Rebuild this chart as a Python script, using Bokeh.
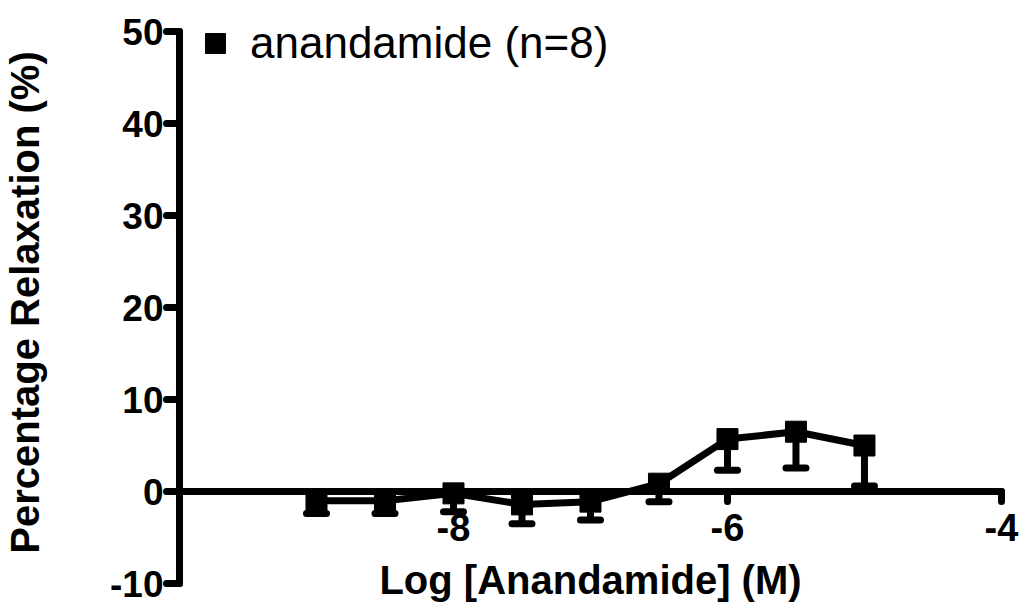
from bokeh.plotting import figure
from bokeh.models import (ColumnDataSource, Whisker, TeeHead, Legend, LegendItem,
                          FixedTicker, Range1d, CustomJSTickFormatter)
from bokeh.embed import file_html
from bokeh.resources import INLINE

# data
log_conc = [-9.0, -8.5, -8.0, -7.5, -7.0, -6.5, -6.0, -5.5, -5.0]
relaxation = [-1.0, -1.0, -0.2, -1.4, -1.1, 0.85, 5.7, 6.5, 5.0]
lower_err = [-2.4, -2.4, -2.2, -3.5, -3.1, -1.1, 2.3, 2.55, 0.6]
x_ticks = [-8, -6, -4]
y_ticks = [-10, 0, 10, 20, 30, 40, 50]
x_bounds = (-10, -4)
y_bounds = (-10, 50)
series_label = "anandamide (n=8)"
x_title = "Log [Anandamide] (M)"
y_title = "Percentage Relaxation (%)"

src = ColumnDataSource(dict(x=log_conc, y=relaxation, lo=lower_err))

# frame is a little larger than the axis bounds so texts around the crossing axis are not clipped
p = figure(width=1020, height=604, x_range=Range1d(-10, -3.861), y_range=Range1d(-12.28, 53.37),
           output_backend="svg", toolbar_location=None,
           min_border_left=179, min_border_right=0, min_border_top=0, min_border_bottom=0)
p.outline_line_color = None
p.grid.visible = False
p.background_fill_color = "white"
p.border_fill_color = "white"

FONT = "Liberation Sans"
fmt = CustomJSTickFormatter(code="return tick.toFixed(0)")

# x axis crossing at y = 0
xa = p.xaxis[0]
xa.fixed_location = 0
xa.bounds = x_bounds
xa.ticker = FixedTicker(ticks=x_ticks)
xa.formatter = fmt
xa.axis_label = x_title
xa.axis_line_width = 7
xa.axis_line_cap = "round"
xa.major_tick_line_width = 7
xa.major_tick_line_cap = "round"
xa.major_tick_in = 0
xa.major_tick_out = 10
xa.minor_tick_line_color = None
xa.major_label_standoff = 12
xa.axis_label_standoff = 14
xa.major_label_text_font = FONT
xa.major_label_text_font_style = "bold"
xa.major_label_text_font_size = "38px"
xa.major_label_text_color = "black"
xa.axis_label_text_font = FONT
xa.axis_label_text_font_style = "bold"
xa.axis_label_text_font_size = "40px"
xa.axis_label_text_color = "black"

ya = p.yaxis[0]
ya.bounds = y_bounds
ya.ticker = FixedTicker(ticks=y_ticks)
ya.formatter = fmt
ya.axis_label = y_title
ya.axis_line_width = 7
ya.axis_line_cap = "round"
ya.major_tick_line_width = 7
ya.major_tick_line_cap = "round"
ya.major_tick_in = 0
ya.major_tick_out = 13
ya.minor_tick_line_color = None
ya.major_label_standoff = 3
ya.axis_label_standoff = 60
ya.major_label_text_font = FONT
ya.major_label_text_font_style = "bold"
ya.major_label_text_font_size = "37px"
ya.major_label_text_color = "black"
ya.axis_label_text_font = FONT
ya.axis_label_text_font_style = "bold"
ya.axis_label_text_font_size = "40px"
ya.axis_label_text_color = "black"

p.line("x", "y", source=src, line_width=7, line_color="black")
wh = Whisker(source=src, base="x", upper="y", lower="lo", dimension="height",
             line_width=7, line_color="black", upper_head=None,
             lower_head=TeeHead(size=20, line_width=7, line_color="black", line_cap="round"))
p.add_layout(wh)
sq = p.scatter("x", "y", source=src, marker="square", size=21,
               fill_color="black", line_color="black")

legend = Legend(items=[LegendItem(label=series_label, renderers=[sq])],
                location=(11, 536), glyph_width=50, glyph_height=50, label_standoff=10,
                padding=0, margin=0, border_line_color=None, background_fill_alpha=0,
                label_text_font=FONT, label_text_font_size="44px", label_text_color="black",
                label_height=50)
p.add_layout(legend)

open("out.html", "w").write(file_html(p, INLINE))
